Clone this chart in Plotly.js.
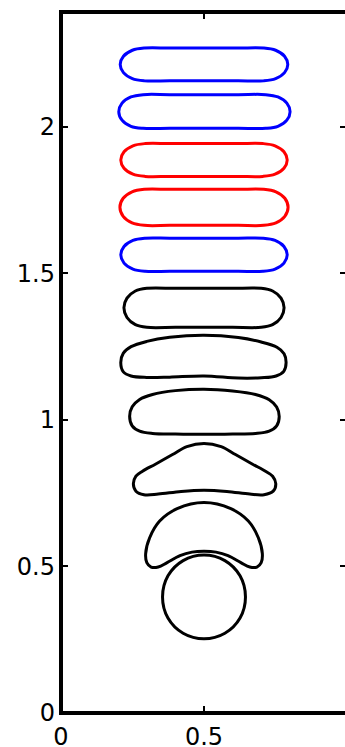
<!DOCTYPE html>
<html>
<head>
<meta charset="utf-8">
<script src="https://cdn.plot.ly/plotly-3.0.1.min.js"></script>
<style>
  html, body { margin: 0; padding: 0; overflow: hidden; background: #fff; }
  #chart { width: 348px; height: 747px; }
</style>
</head>
<body>
<div id="chart"></div>
<script>
// Outline points of each bubble snapshot (x, y), listed top to bottom.
// Each outline starts and ends on the same point so the spline closes smoothly.
const blue1X = [0.207,0.2184,0.2495,0.292,0.38,0.5,0.62,0.708,0.7505,0.7816,0.793,0.7816,0.7505,0.708,0.62,0.5,0.38,0.292,0.2495,0.2184,0.207];
const blue1Y = [2.213,2.241,2.2615,2.269,2.269,2.269,2.269,2.269,2.2615,2.241,2.213,2.185,2.1645,2.157,2.157,2.157,2.157,2.157,2.1645,2.185,2.213];

const blue2X = [0.202,0.2134,0.2445,0.287,0.38,0.5,0.62,0.716,0.7585,0.7896,0.801,0.7896,0.7585,0.716,0.62,0.5,0.38,0.287,0.2445,0.2134,0.202];
const blue2Y = [2.052,2.081,2.102,2.110,2.110,2.110,2.110,2.110,2.102,2.081,2.052,2.023,2.002,1.995,1.995,1.995,1.995,1.995,2.002,2.023,2.052];

const red3X = [0.209,0.2204,0.2515,0.294,0.38,0.5,0.62,0.706,0.7485,0.7796,0.791,0.7796,0.7485,0.706,0.62,0.5,0.38,0.294,0.2515,0.2204,0.209];
const red3Y = [1.887,1.915,1.9355,1.943,1.943,1.943,1.943,1.943,1.9355,1.915,1.887,1.859,1.8385,1.831,1.831,1.831,1.831,1.831,1.8385,1.859,1.887];

const red4X = [0.206,0.2174,0.2485,0.291,0.38,0.5,0.62,0.709,0.7515,0.7826,0.794,0.7826,0.7515,0.709,0.62,0.5,0.38,0.291,0.2485,0.2174,0.206];
const red4Y = [1.7255,1.7565,1.7785,1.787,1.787,1.787,1.787,1.787,1.7785,1.7565,1.7255,1.6945,1.6725,1.664,1.664,1.664,1.664,1.664,1.6725,1.6945,1.7255];

const blue5X = [0.209,0.2204,0.2515,0.294,0.38,0.5,0.62,0.706,0.7485,0.7796,0.791,0.7796,0.7485,0.706,0.62,0.5,0.38,0.294,0.2515,0.2204,0.209];
const blue5Y = [1.5635,1.592,1.6125,1.620,1.620,1.620,1.620,1.620,1.6125,1.592,1.5635,1.535,1.5145,1.507,1.507,1.507,1.507,1.507,1.5145,1.535,1.5635];

const black6X = [0.220,0.2307,0.260,0.300,0.40,0.5,0.60,0.700,0.740,0.7693,0.780,0.7693,0.740,0.700,0.60,0.5,0.40,0.300,0.260,0.2307,0.220];
const black6Y = [1.3825,1.4155,1.440,1.449,1.449,1.449,1.449,1.449,1.440,1.4155,1.3825,1.3495,1.325,1.316,1.316,1.316,1.316,1.316,1.325,1.3495,1.3825];

const black7X = [0.209,0.218,0.245,0.30,0.38,0.5,0.62,0.70,0.755,0.780,0.787,0.779,0.752,0.70,0.62,0.5,0.38,0.30,0.245,0.218,0.209];
const black7Y = [1.195,1.228,1.250,1.268,1.282,1.289,1.281,1.266,1.248,1.226,1.195,1.166,1.150,1.144,1.143,1.150,1.146,1.145,1.150,1.164,1.195];

const black8X = [0.240,0.249,0.275,0.32,0.40,0.5,0.60,0.68,0.728,0.754,0.763,0.754,0.728,0.68,0.6,0.5,0.4,0.32,0.275,0.249,0.240];
const black8Y = [1.013,1.045,1.070,1.087,1.100,1.105,1.099,1.087,1.069,1.044,1.012,0.980,0.962,0.954,0.952,0.951,0.952,0.954,0.962,0.980,1.013];

const black9X = [0.253,0.262,0.285,0.33,0.39,0.44,0.5,0.56,0.61,0.67,0.715,0.740,0.751,0.742,0.71,0.66,0.58,0.5,0.42,0.34,0.29,0.262,0.253];
const black9Y = [0.782,0.808,0.825,0.849,0.882,0.909,0.920,0.909,0.882,0.849,0.825,0.808,0.782,0.757,0.745,0.747,0.756,0.760,0.756,0.747,0.745,0.757,0.782];

const black10X = [0.5,0.406,0.345,0.310,0.296,0.300,0.315,0.340,0.371,0.416,0.458,0.5,0.542,0.584,0.629,0.660,0.685,0.700,0.704,0.690,0.655,0.594,0.5];
const black10Y = [0.718,0.697,0.655,0.598,0.544,0.513,0.498,0.498,0.513,0.537,0.549,0.552,0.549,0.537,0.513,0.498,0.498,0.513,0.544,0.598,0.655,0.697,0.718];

const black11X = [0.645,0.626,0.573,0.5,0.427,0.374,0.355,0.374,0.427,0.5,0.573,0.626,0.645];
const black11Y = [0.396,0.468,0.520,0.539,0.520,0.468,0.396,0.324,0.272,0.253,0.272,0.324,0.396];

const outlineColors = ['#0000ff','#0000ff','#ff0000','#ff0000','#0000ff','#000000','#000000','#000000','#000000','#000000','#000000'];

const xTickVals = [0, 0.5, 1];
const xTickText = ['0', '0.5', '1'];
const yTickVals = [0, 0.5, 1, 1.5, 2];
const yTickText = ['0', '0.5', '1', '1.5', '2'];
const xRange = [0, 1];
const yRange = [0, 2.392];

const outlines = [
  [blue1X, blue1Y], [blue2X, blue2Y], [red3X, red3Y], [red4X, red4Y], [blue5X, blue5Y],
  [black6X, black6Y], [black7X, black7Y], [black8X, black8Y], [black9X, black9Y],
  [black10X, black10Y], [black11X, black11Y]
];

const traces = outlines.map(function (o, i) {
  return {
    type: 'scatter',
    mode: 'lines',
    x: o[0],
    y: o[1],
    line: { color: outlineColors[i], width: 3, shape: 'spline', smoothing: 1, simplify: false },
    hoverinfo: 'skip',
    showlegend: false
  };
});

const axisFont = { family: 'DejaVu Sans, sans-serif', size: 24, color: '#000' };

function axisStyle(vals, text, range, standoff) {
  return {
    range: range,
    tickvals: vals,
    ticktext: text,
    ticks: 'inside',
    ticklen: 7,
    tickwidth: 2,
    tickcolor: '#000',
    showline: false,
    mirror: 'ticks',
    showgrid: false,
    zeroline: false,
    tickfont: axisFont,
    ticklabelstandoff: standoff,
    fixedrange: true
  };
}

const layout = {
  width: 348,
  height: 747,
  margin: { l: 60.5, r: 0.5, t: 12, b: 33.5, pad: 0 },
  paper_bgcolor: '#fff',
  plot_bgcolor: '#fff',
  showlegend: false,
  xaxis: axisStyle(xTickVals, xTickText, xRange, 7),
  yaxis: axisStyle(yTickVals, yTickText, yRange, 5),
  // box frame centred on the plot-area edges
  shapes: [{
    type: 'rect', xref: 'paper', yref: 'paper',
    x0: 0, x1: 1, y0: 0, y1: 1,
    line: { color: '#000', width: 4 },
    fillcolor: 'rgba(0,0,0,0)',
    layer: 'above'
  }]
};

Plotly.newPlot('chart', traces, layout, { staticPlot: true, displayModeBar: false });
</script>
</body>
</html>
